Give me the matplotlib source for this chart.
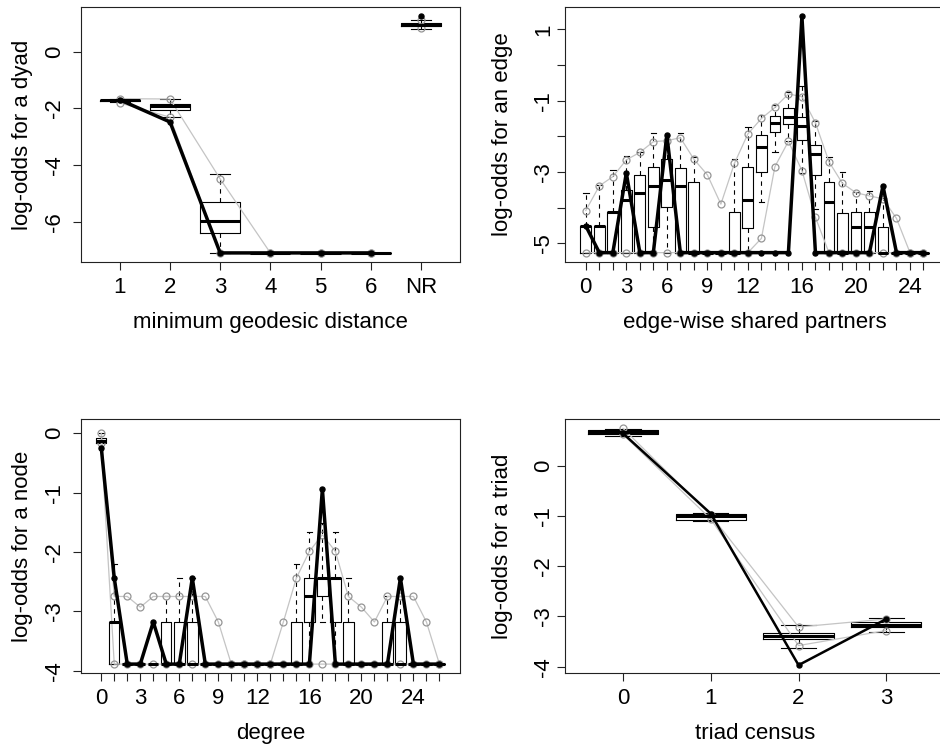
import numpy as np
import matplotlib.pyplot as plt

plt.rcParams['font.family'] = ['Liberation Sans', 'DejaVu Sans']
plt.rcParams['font.size'] = 16

# ---- minimum geodesic distance (positions 1..6 and NR) ----
dist_labels = ['1', '2', '3', '4', '5', '6', 'NR']
dist_lo   = [-1.78, -2.32, -7.10, -7.10, -7.10, -7.10, 0.80]
dist_q1   = [-1.74, -2.05, -6.41, -7.10, -7.10, -7.10, 0.89]
dist_med  = [-1.71, -1.91, -5.99, -7.10, -7.10, -7.10, 0.95]
dist_q3   = [-1.69, -1.85, -5.31, -7.10, -7.10, -7.10, 1.00]
dist_hi   = [-1.67, -1.66, -4.31, -7.10, -7.10, -7.10, 1.13]
dist_pmin = [-1.81, -2.31, -7.10, -7.10, -7.10, -7.10, 0.82]
dist_pmax = [-1.66, -1.67, -4.49, -7.10, -7.10, -7.10, 1.10]
dist_obs  = [-1.70, -2.48, -7.10, -7.10, -7.10, -7.10, 1.25]

# ---- edge-wise shared partners 0..25 ----
F = -5.26
esp_lo   = [F] * 13 + [-3.84, -2.43, -2.12, -3.02, -4.05] + [F] * 8
esp_q1   = [F, F, F, F, F, -4.55, -3.97, F, F, F, F, F, -4.56, -2.99, -1.88, -1.66, -2.10, -3.08,
            F, F, F, F, F, F, F, F]
esp_med  = [-4.51, -4.50, -4.12, -3.79, -3.58, -3.39, -3.22, -3.38, F, F, F, F, -3.79, -2.29, -1.62,
            -1.45, -1.71, -2.50, -3.83, F, -4.53, -4.53, F, F, F, F]
esp_q3   = [-4.51, -4.50, -4.12, -3.50, -3.07, -2.87, -2.64, -2.88, -3.28, F, F, -4.12, -2.87, -1.96,
            -1.43, -1.21, -1.45, -2.24, -3.28, -4.16, -4.12, -4.12, -4.53, F, F, F]
esp_hi   = [-3.60, -3.37, -2.94, -2.55, -2.43, -1.92, -2.08, -1.92, -2.57, F, F, -2.64, -1.73, -1.40,
            -1.12, -0.75, -0.59, -1.57, -2.57, -2.99, -3.55, -3.53, -3.72, F, F, F]
esp_pmin = [F] * 13 + [-4.86, -2.85, -2.14, -2.96, -4.27] + [F] * 8
esp_pmax = [-4.08, -3.39, -3.13, -2.66, -2.45, -2.15, -2.12, -2.04, -2.64, -3.08, -3.90, -2.76, -1.93,
            -1.50, -1.19, -0.81, -0.89, -1.62, -2.71, -3.32, -3.58, -3.67, -3.75, -4.30, F, F]
esp_obs  = [-4.51, F, F, -3.03, F, F, -1.96, F, F, F, F, F, F, F, F, F, 1.36, F, F, F, F, F, -3.39,
            F, F, F]
esp_shown = [0, 3, 6, 9, 12, 16, 20, 24]

# ---- degree 0..26 ----
G = -3.89
deg_lo   = [-0.17] + [G] * 16 + [-3.18] + [G] * 9
deg_q1   = [-0.17] + [G] * 15 + [-3.18, -2.75, -3.18] + [G] * 8
deg_med  = [-0.13, -3.18] + [G] * 14 + [-2.75, -2.44, -2.44] + [G] * 8
deg_q3   = [-0.085, -3.18, G, G, G, -3.18, -3.18, -3.18, G, G, G, G, G, G, G, -3.18, -2.44, -2.44,
            -2.44, -3.18, G, G, -3.18, -3.18, G, G, G]
deg_hi   = [0.0, -2.20, G, G, G, -2.75, -2.44, -2.44, G, G, G, G, G, G, G, -2.20, -1.66, -1.52,
            -1.66, -2.44, G, G, -2.75, -2.75, G, G, G]
deg_pmin = [-0.17] + [G] * 26
deg_pmax = [0.0, -2.75, -2.75, -2.93, -2.75, -2.75, -2.75, -2.75, -2.75, -3.18, G, G, G, G, -3.18,
            -2.44, -1.99, -1.71, -1.99, -2.75, -2.93, -3.18, -2.75, -2.75, -2.75, -3.18, G]
deg_obs  = [-0.24, -2.44, G, G, -3.18, G, G, -2.44] + [G] * 9 + [-0.94] + [G] * 5 + [-2.44, G, G, G]
deg_shown = [0, 3, 6, 9, 12, 16, 20, 24]

# ---- triad census 0..3 ----
tri_lo   = [0.60, -1.09, -3.62, -3.30]
tri_q1   = [0.63, -1.07, -3.45, -3.21]
tri_med  = [0.67, -1.00, -3.39, -3.17]
tri_q3   = [0.71, -0.95, -3.32, -3.12]
tri_hi   = [0.74, -0.93, -3.18, -3.03]
tri_pmin = [0.63, -1.06, -3.58, -3.28]
tri_pmax = [0.75, -0.98, -3.21, -3.05]
tri_obs  = [0.65, -0.95, -3.97, -3.05]

GREY_LINE = '#c4c4c4'
GREY_PT = '#959595'


def gof_panel(ax, pos, lo, q1, med, q3, hi, pmin, pmax, obs, nline, obs_lw=2.5):
    stats = [dict(whislo=a, q1=b, med=c, q3=d, whishi=e)
             for a, b, c, d, e in zip(lo, q1, med, q3, hi)]
    ax.bxp(stats, positions=pos, widths=0.8, showfliers=False, manage_ticks=False,
           boxprops=dict(color='black', lw=0.8),
           medianprops=dict(color='black', lw=2.2, solid_capstyle='butt'),
           whiskerprops=dict(color='black', lw=0.8, linestyle=(0, (4, 4))),
           capprops=dict(color='black', lw=0.8))
    ax.plot(pos[:nline], pmin[:nline], color=GREY_LINE, lw=0.9)
    ax.plot(pos[:nline], pmax[:nline], color=GREY_LINE, lw=0.9)
    ax.plot(pos, pmin, 'o', mfc='none', mec=GREY_PT, ms=5, mew=0.9)
    ax.plot(pos, pmax, 'o', mfc='none', mec=GREY_PT, ms=5, mew=0.9)
    ax.plot(pos[:nline], obs[:nline], color='black', lw=obs_lw)
    ax.plot(pos, obs, 'o', color='black', ms=3.6)
    n = len(pos)
    ax.set_xlim(pos[0] - 0.5 - 0.04 * n, pos[-1] + 0.5 + 0.04 * n)
    for s in ax.spines.values():
        s.set_linewidth(0.8)
        s.set_color('#222222')


fig = plt.figure(figsize=(9.4, 7.49), dpi=100)
W, H = 940, 749
def axes_px(x0, y0, x1, y1):
    return fig.add_axes([x0 / W, 1 - y1 / H, (x1 - x0) / W, (y1 - y0) / H])

ax1 = axes_px(80.7, 7.3, 460, 261.7)
ax2 = axes_px(565, 7.3, 944.3, 261.7)
ax3 = axes_px(80.7, 419.3, 460, 673.3)
ax4 = axes_px(565, 419.3, 944.3, 673.3)

# panel 1
pos1 = np.arange(1, len(dist_labels) + 1)
gof_panel(ax1, pos1, dist_lo, dist_q1, dist_med, dist_q3, dist_hi, dist_pmin, dist_pmax, dist_obs, 6)
ax1.set_ylim(-7.41, 1.565)
ax1.set_xticks(pos1)
ax1.set_xticklabels(dist_labels)
ax1.set_yticks([0, -2, -4, -6])
ax1.set_yticklabels(['0', '-2', '-4', '-6'], rotation=90, va='center')
ax1.set_xlabel('minimum geodesic distance')
ax1.set_ylabel('log-odds for a dyad')

# panel 2
pos2 = np.arange(len(esp_obs))
gof_panel(ax2, pos2, esp_lo, esp_q1, esp_med, esp_q3, esp_hi, esp_pmin, esp_pmax, esp_obs, len(pos2))
ax2.set_ylim(-5.514, 1.617)
ax2.set_xticks(pos2)
ax2.set_xticklabels([str(p) if p in esp_shown else '' for p in pos2])
ax2.set_yticks([1, 0, -1, -2, -3, -4, -5])
ax2.set_yticklabels(['1', '', '-1', '', '-3', '', '-5'], rotation=90, va='center')
ax2.set_xlabel('edge-wise shared partners')
ax2.set_ylabel('log-odds for an edge')

# panel 3
pos3 = np.arange(len(deg_obs))
gof_panel(ax3, pos3, deg_lo, deg_q1, deg_med, deg_q3, deg_hi, deg_pmin, deg_pmax, deg_obs, len(pos3))
ax3.set_ylim(-4.045, 0.236)
ax3.set_xticks(pos3)
ax3.set_xticklabels([str(p) if p in deg_shown else '' for p in pos3])
ax3.set_yticks([0, -1, -2, -3, -4])
ax3.set_yticklabels(['0', '-1', '-2', '-3', '-4'], rotation=90, va='center')
ax3.set_xlabel('degree')
ax3.set_ylabel('log-odds for a node')

# panel 4
pos4 = np.arange(len(tri_obs))
gof_panel(ax4, pos4, tri_lo, tri_q1, tri_med, tri_q3, tri_hi, tri_pmin, tri_pmax, tri_obs, len(pos4),
          obs_lw=1.8)
ax4.set_ylim(-4.133, 0.93)
ax4.set_xticks(pos4)
ax4.set_xticklabels([str(p) for p in pos4])
ax4.set_yticks([0, -1, -2, -3, -4])
ax4.set_yticklabels(['0', '-1', '-2', '-3', '-4'], rotation=90, va='center')
ax4.set_xlabel('triad census')
ax4.set_ylabel('log-odds for a triad')

for ax, ypad, ylab in [(ax1, 5.3, -0.125), (ax3, 5.3, -0.125), (ax2, 1.9, -0.136), (ax4, 1.9, -0.136)]:
    ax.tick_params(axis='both', direction='out', length=5.8, width=0.8, color='#222222')
    ax.tick_params(axis='x', pad=5)
    ax.tick_params(axis='y', pad=ypad)
    ax.xaxis.set_label_coords(0.5, -0.196)
    ax.yaxis.set_label_coords(ylab, 0.5)

fig.savefig('out.png', dpi=100)
